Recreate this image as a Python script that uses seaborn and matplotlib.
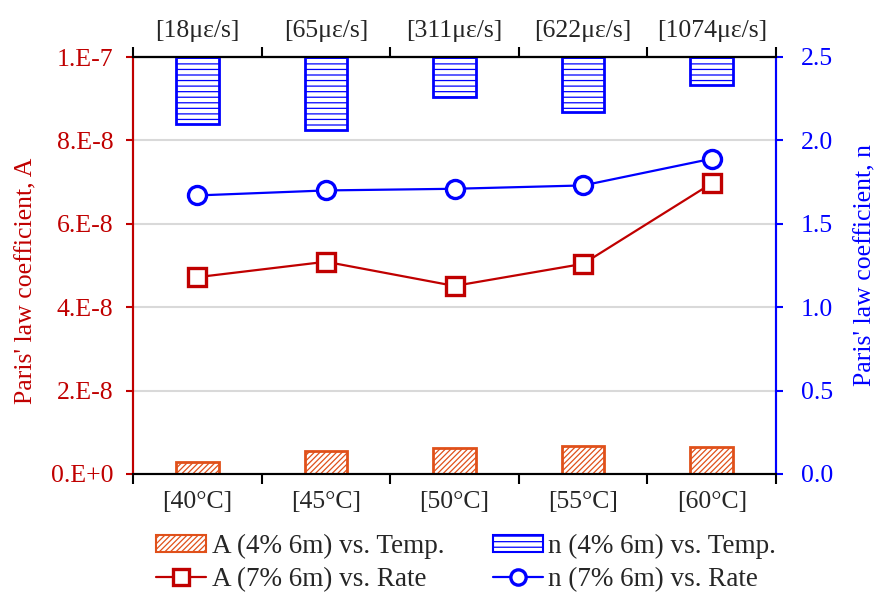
import matplotlib
matplotlib.use('Agg')
import matplotlib.pyplot as plt
import seaborn as sns
import numpy as np
import pandas as pd
from matplotlib.lines import Line2D
from matplotlib.patches import Patch

# ---- data ----
temps = ['[40°C]', '[45°C]', '[50°C]', '[55°C]', '[60°C]']
rates = ['[18με/s]', '[65με/s]', '[311με/s]', '[622με/s]', '[1074με/s]']
A_temp = [0.28e-8, 0.54e-8, 0.63e-8, 0.66e-8, 0.65e-8]
n_temp = [2.10, 2.06, 2.26, 2.17, 2.33]
A_rate = [4.72e-8, 5.09e-8, 4.51e-8, 5.04e-8, 6.97e-8]
n_rate = [1.67, 1.70, 1.71, 1.73, 1.89]
A_ticks = [0, 2e-8, 4e-8, 6e-8, 8e-8, 1e-7]
A_ticklabels = ['0.E+0', '2.E-8', '4.E-8', '6.E-8', '8.E-8', '1.E-7']
n_ticks = [0.0, 0.5, 1.0, 1.5, 2.0, 2.5]
n_ticklabels = ['0.0', '0.5', '1.0', '1.5', '2.0', '2.5']

RED = '#C00000'
BLUE = '#0000FF'
ORANGE = '#E0501A'

sns.set_style('white')
plt.rcParams['font.family'] = ['Liberation Serif', 'DejaVu Serif']
plt.rcParams['hatch.linewidth'] = 0.9
FS = 18.5
FS_LEG = 19.5

fig = plt.figure(figsize=(8.84, 5.95), dpi=100)
ax = fig.add_axes([133/884, 1-474/595, (776-133)/884, (474-57)/595])
ax2 = ax.twinx()

pos = np.arange(len(temps))
df = pd.DataFrame({'pos': pos, 'A_temp': A_temp, 'n_temp': n_temp,
                   'A_rate': A_rate, 'n_rate': n_rate})

# orange hatched bars (A vs Temp) on left axis
sns.barplot(data=df, x='pos', y='A_temp', ax=ax, native_scale=True,
            width=0.33, color=ORANGE, zorder=2)
for p in ax.patches:
    p.set_facecolor('white')
    p.set_edgecolor(ORANGE)
    p.set_hatch('//////')
    p.set_linewidth(2.0)

# blue hatched bars hanging from top (n vs Temp) on right axis
ax2.bar(df['pos'], [n_ticks[-1] - v for v in n_temp], bottom=df['n_temp'],
        width=0.33, facecolor='white', edgecolor=BLUE, hatch='---',
        linewidth=2.0, zorder=2)

# lines
sns.lineplot(data=df, x='pos', y='A_rate', ax=ax, color=RED, marker='s',
             markersize=13, markerfacecolor='white', markeredgecolor=RED,
             markeredgewidth=2.4, linewidth=1.6, zorder=4)
sns.lineplot(data=df, x='pos', y='n_rate', ax=ax2, color=BLUE, marker='o',
             markersize=13, markerfacecolor='white', markeredgecolor=BLUE,
             markeredgewidth=2.4, linewidth=1.6, zorder=4)

# axes limits and ticks
ax.set_xlim(-0.5, len(temps) - 0.5)
ax.set_ylim(0, 1e-7)
ax2.set_ylim(0, 2.5)
bounds = np.arange(len(temps) + 1) - 0.5
ax.set_xticks(bounds)
ax.set_xticklabels([])
ax.set_xticks(pos, minor=True)
ax.set_xticklabels(temps, minor=True, fontsize=FS)
ax.tick_params(axis='x', which='major', direction='out', length=7, width=1.5, color='black', bottom=True)
ax.tick_params(axis='x', which='minor', length=0, pad=12)

ax.set_yticks(A_ticks)
ax.set_yticklabels(A_ticklabels, fontsize=FS, color=RED)
ax.tick_params(axis='y', direction='out', length=5, width=1.5, color=RED, left=True, pad=9)
ax2.set_yticks(n_ticks)
ax2.set_yticklabels(n_ticklabels, fontsize=FS, color=BLUE)
ax2.tick_params(axis='y', direction='out', length=5, width=1.5, color=BLUE, right=True, pad=13)

ax.set_xlabel('')
ax.set_ylabel("Paris' law coefficient, A", fontsize=FS, color=RED, labelpad=10)
ax.yaxis.label.set_y(0.463)
ax2.set_ylabel("Paris' law coefficient, n", fontsize=FS, color=BLUE, labelpad=15)

ax.yaxis.grid(True, color='#D9D9D9', linewidth=1.5)
ax.set_axisbelow(True)
ax2.grid(False)

# spines
for a in (ax, ax2):
    a.spines['top'].set_color('black')
    a.spines['bottom'].set_color('black')
    a.spines['top'].set_linewidth(1.5)
    a.spines['bottom'].set_linewidth(1.5)
    a.spines['left'].set_color(RED)
    a.spines['right'].set_color(BLUE)
    a.spines['left'].set_linewidth(1.5)
    a.spines['right'].set_linewidth(1.5)

# top axis with strain rates
top = ax.secondary_xaxis('top')
top.set_xticks(bounds)
top.set_xticklabels([])
top.set_xticks(pos, minor=True)
top.set_xticklabels(rates, minor=True, fontsize=FS)
top.tick_params(axis='x', which='major', direction='out', length=7, width=1.5, color='black')
top.tick_params(axis='x', which='minor', length=0, pad=11)
top.spines['top'].set_color('black')
top.spines['top'].set_linewidth(1.5)

# legend
handles = [
    Patch(facecolor='white', edgecolor=ORANGE, hatch='//////', linewidth=1.5),
    Line2D([], [], color=RED, marker='s', markersize=11, markerfacecolor='white',
           markeredgecolor=RED, markeredgewidth=2.4, linewidth=1.6),
    Patch(facecolor='white', edgecolor=BLUE, hatch='---', linewidth=1.5),
    Line2D([], [], color=BLUE, marker='o', markersize=11, markerfacecolor='white',
           markeredgecolor=BLUE, markeredgewidth=2.4, linewidth=1.6),
]
labels = ['A (4% 6m) vs. Temp.', 'A (7% 6m) vs. Rate',
          'n (4% 6m) vs. Temp.', 'n (7% 6m) vs. Rate']
fig.legend(handles, labels, ncol=2, loc='upper left',
           bbox_to_anchor=(156/884, 1-534/595), frameon=False,
           fontsize=FS_LEG, handlelength=1.85, handleheight=0.6, handletextpad=0.2,
           columnspacing=1.8, labelspacing=0.3, borderpad=0, borderaxespad=0)

fig.savefig('out.png', dpi=100)
